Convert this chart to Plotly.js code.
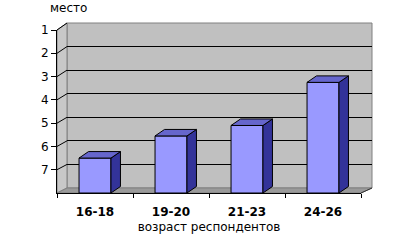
<!DOCTYPE html>
<html><head><meta charset="utf-8">
<script src="https://cdn.plot.ly/plotly-3.0.1.min.js"></script>
<style>html,body{margin:0;padding:0;background:#fff;}#chart{width:399px;height:244px;}</style>
</head><body><div id="chart"></div>
<script>
const categories = ['16-18', '19-20', '21-23', '24-26'];
const places = [6.5, 5.55, 5.1, 3.25];
const rankTicks = [1, 2, 3, 4, 5, 6, 7];
const rankFloor = 8;
const xTitle = 'возраст респондентов';
const yTitle = 'место';

const W = 399, H = 244;
const BACK = {x0: 67, x1: 372, y0: 23, y1: 188};
const FRONT = {x0: 57, x1: 361, y0: 30, y1: 193};
const BAR_W = 0.42;
const nSteps = rankFloor - rankTicks[0];
const unitX = (FRONT.x1 - FRONT.x0) / categories.length;
const unitY = (FRONT.y1 - FRONT.y0) / nSteps;
const unitYb = (BACK.y1 - BACK.y0) / nSteps;
const DX = 9.5 / unitX, DY = 6.5 / unitY;
const px = v => v / W, py = v => 1 - v / H;
const idx = categories.map((c, i) => i);
const FONT = 'DejaVu Sans';

const sideFace = {x: [], y: []}, topFace = {x: [], y: []};
places.forEach((v, i) => {
  const a = i - BAR_W / 2, b = i + BAR_W / 2;
  topFace.x.push(a, a + DX, b + DX, b, a, null);
  topFace.y.push(v, v - DY, v - DY, v, v, null);
  sideFace.x.push(b, b + DX, b + DX, b, b, null);
  sideFace.y.push(v, v - DY, rankFloor - DY, rankFloor, v, null);
});

const traces = [
  {type: 'scatter', x: [], y: [], xaxis: 'x', yaxis: 'y', hoverinfo: 'skip'},
  {type: 'bar', x: idx, y: places.map(v => v - rankFloor), base: rankFloor, width: BAR_W,
   marker: {color: '#9999ff', line: {color: '#000', width: 1}}, xaxis: 'x2', yaxis: 'y2', hoverinfo: 'skip'},
  {type: 'scatter', mode: 'lines', x: sideFace.x, y: sideFace.y, fill: 'toself', fillcolor: '#333399',
   line: {color: '#000', width: 1}, xaxis: 'x2', yaxis: 'y2', hoverinfo: 'skip'},
  {type: 'scatter', mode: 'lines', x: topFace.x, y: topFace.y, fill: 'toself', fillcolor: '#6666cc',
   line: {color: '#000', width: 1}, xaxis: 'x2', yaxis: 'y2', hoverinfo: 'skip'}
];

const P = (x, y) => px(x) + ',' + py(y);
const shapes = [
  {type: 'rect', xref: 'paper', yref: 'paper', x0: px(BACK.x0), x1: px(BACK.x1), y0: py(BACK.y1), y1: py(BACK.y0),
   fillcolor: '#c0c0c0', line: {color: '#808080', width: 1}, layer: 'below'},
  {type: 'path', xref: 'paper', yref: 'paper', layer: 'below',
   path: 'M' + P(FRONT.x0, FRONT.y0) + 'L' + P(FRONT.x0, FRONT.y1) + 'L' + P(BACK.x0, BACK.y1) + 'L' + P(BACK.x0, BACK.y0) + 'Z',
   fillcolor: '#c8c8c8', line: {color: '#808080', width: 1}},
  {type: 'path', xref: 'paper', yref: 'paper', layer: 'below',
   path: 'M' + P(FRONT.x0, FRONT.y1) + 'L' + P(FRONT.x1, FRONT.y1) + 'L' + P(BACK.x1, BACK.y1) + 'L' + P(BACK.x0, BACK.y1) + 'Z',
   fillcolor: '#9a9a9a', line: {color: '#808080', width: 1}},
  {type: 'line', xref: 'paper', yref: 'paper', layer: 'below',
   x0: px(FRONT.x1), y0: py(FRONT.y1), x1: px(BACK.x1), y1: py(BACK.y1), line: {color: '#333', width: 1}}
].concat(rankTicks.map(t => ({
  type: 'line', xref: 'paper', yref: 'paper', layer: 'below',
  x0: px(FRONT.x0), y0: py(FRONT.y0 + (t - 1) * unitY),
  x1: px(BACK.x0), y1: py(BACK.y0 + (t - 1) * unitYb),
  line: {color: '#000', width: 1}
})));

const layout = {
  width: W, height: H,
  margin: {l: 0, r: 0, t: 0, b: 0, pad: 0},
  paper_bgcolor: '#fff', plot_bgcolor: 'rgba(0,0,0,0)',
  showlegend: false,
  xaxis: {domain: [px(BACK.x0), px(BACK.x1)], range: [-0.5, categories.length - 0.5], anchor: 'y',
    showgrid: false, zeroline: false, showticklabels: false, ticks: '', showline: false, fixedrange: true},
  yaxis: {domain: [py(BACK.y1), py(BACK.y0)], range: [rankFloor, rankTicks[0]], anchor: 'x',
    tickmode: 'array', tickvals: rankTicks.slice(1), showgrid: true, gridcolor: '#000', gridwidth: 1,
    zeroline: false, showticklabels: false, ticks: '', showline: false, fixedrange: true},
  xaxis2: {domain: [px(FRONT.x0), px(FRONT.x1)], range: [-0.5, categories.length - 0.5], anchor: 'y2',
    tickmode: 'array', tickvals: idx, ticktext: categories, ticks: '',
    tickfont: {family: FONT, size: 12, color: '#000', weight: 'bold'},
    ticklabelstandoff: 8,
    showline: true, linecolor: '#000', linewidth: 1, showgrid: false, zeroline: false, fixedrange: true,
    minor: {tickmode: 'linear', tick0: -0.5, dtick: 1, ticks: 'outside', ticklen: 4, tickcolor: '#000', showgrid: false},
    title: {text: xTitle, font: {family: FONT, size: 12, color: '#000'}, standoff: 4}},
  yaxis2: {domain: [py(FRONT.y1), py(FRONT.y0)], range: [rankFloor, rankTicks[0]], anchor: 'x2',
    tickmode: 'array', tickvals: rankTicks, ticks: 'outside', ticklen: 5, tickcolor: '#000',
    tickfont: {family: FONT, size: 12, color: '#000'},
    showline: true, linecolor: '#000', linewidth: 1, showgrid: false, zeroline: false, fixedrange: true},
  shapes: shapes,
  annotations: [{text: yTitle, xref: 'paper', yref: 'paper', x: px(48), y: py(8), xanchor: 'left', yanchor: 'middle',
    showarrow: false, font: {family: FONT, size: 12, color: '#000'}}]
};

Plotly.newPlot('chart', traces, layout, {displayModeBar: false, staticPlot: true});
</script>
</body></html>
